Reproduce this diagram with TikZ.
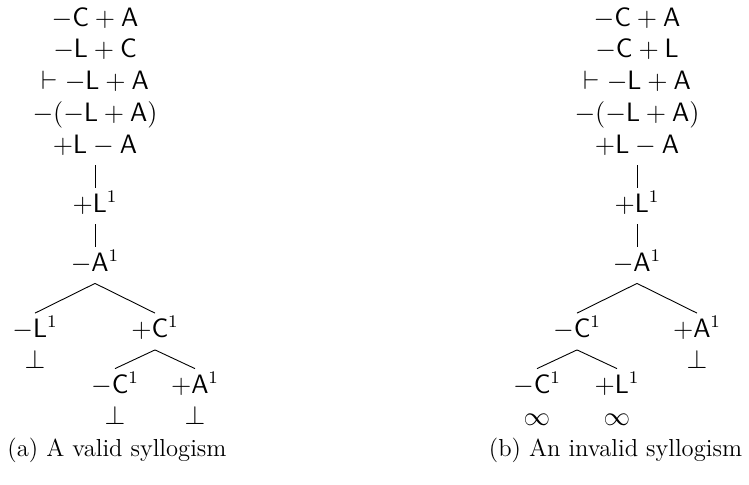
\documentclass[tikz,border=0pt]{standalone}
\usepackage{graphicx}
\newcommand{\symtxt}[1]{\scalebox{1.108}{$#1$}}
\begin{document}
\begin{tikzpicture}[x=0.5pt,y=-0.5pt,
  tn/.style={inner sep=0pt, text height=12pt, text depth=6pt, anchor=base, font=\fontsize{12}{14}\selectfont},
  tleaf/.style={tn, text depth=0pt},
  lf/.style={inner sep=0pt, anchor=base, font=\fontsize{12}{14}\selectfont},
  captext/.style={inner sep=0pt, anchor=base, font=\fontsize{12.3}{14}\selectfont},
  edge/.style={draw=black, line width=0.45pt}]
\useasboundingbox (0,0) rectangle (749,484);
% ---------- (a) ----------
\node[lf] (a1) at (95,26) {\symtxt{-\mathsf{C}+\mathsf{A}}};
\node[lf] (a2) at (95,57.5) {\symtxt{-\mathsf{L}+\mathsf{C}}};
\node[lf] (a3) at (95,89) {\symtxt{\vdash -\mathsf{L}+\mathsf{A}}};
\node[lf] (a4) at (95,121) {\symtxt{-(-\mathsf{L}+\mathsf{A})}};
\node[tn] (a5) at (95,153) {\symtxt{+\mathsf{L}-\mathsf{A}}};
\node[tn] (a6) at (95,212) {\symtxt{+\mathsf{L}^1}};
\node[tn] (a7) at (95,271) {\symtxt{-\mathsf{A}^1}};
\node[tleaf] (a8) at (35,337.5) {\symtxt{-\mathsf{L}^1}};
\node[tn] (a9) at (155,337.5) {\symtxt{+\mathsf{C}^1}};
\node[lf] (a10) at (35,368) {\symtxt{\bot}};
\node[tleaf] (a11) at (115,393) {\symtxt{-\mathsf{C}^1}};
\node[tleaf] (a12) at (195,393) {\symtxt{+\mathsf{A}^1}};
\node[lf] (a13) at (115,424.5) {\symtxt{\bot}};
\node[lf] (a14) at (195,424.5) {\symtxt{\bot}};
\draw[edge] (a5.south) -- (a6.north);
\draw[edge] (a6.south) -- (a7.north);
\draw[edge] (a7.south) -- (a8.north);
\draw[edge] (a7.south) -- (a9.north);
\draw[edge] (a9.south) -- (a11.north);
\draw[edge] (a9.south) -- (a12.north);
\node[captext] (capa) at (117,456) {(a) A valid syllogism};
% ---------- (b) ----------
\node[lf] (b1) at (637,26) {\symtxt{-\mathsf{C}+\mathsf{A}}};
\node[lf] (b2) at (637,57.5) {\symtxt{-\mathsf{C}+\mathsf{L}}};
\node[lf] (b3) at (637,89) {\symtxt{\vdash -\mathsf{L}+\mathsf{A}}};
\node[lf] (b4) at (637,121) {\symtxt{-(-\mathsf{L}+\mathsf{A})}};
\node[tn] (b5) at (637,153) {\symtxt{+\mathsf{L}-\mathsf{A}}};
\node[tn] (b6) at (637,212) {\symtxt{+\mathsf{L}^1}};
\node[tn] (b7) at (637,271) {\symtxt{-\mathsf{A}^1}};
\node[tn] (b8) at (577,337.5) {\symtxt{-\mathsf{C}^1}};
\node[tleaf] (b9) at (697,337.5) {\symtxt{+\mathsf{A}^1}};
\node[lf] (b10) at (697,368) {\symtxt{\bot}};
\node[tleaf] (b11) at (537,393) {\symtxt{-\mathsf{C}^1}};
\node[tleaf] (b12) at (617,393) {\symtxt{+\mathsf{L}^1}};
\node[lf] (b13) at (537,425) {\symtxt{\infty}};
\node[lf] (b14) at (617,425) {\symtxt{\infty}};
\draw[edge] (b5.south) -- (b6.north);
\draw[edge] (b6.south) -- (b7.north);
\draw[edge] (b7.south) -- (b8.north);
\draw[edge] (b7.south) -- (b9.north);
\draw[edge] (b8.south) -- (b11.north);
\draw[edge] (b8.south) -- (b12.north);
\node[captext] (capb) at (615.5,456) {(b) An invalid syllogism};
\end{tikzpicture}
\end{document}
